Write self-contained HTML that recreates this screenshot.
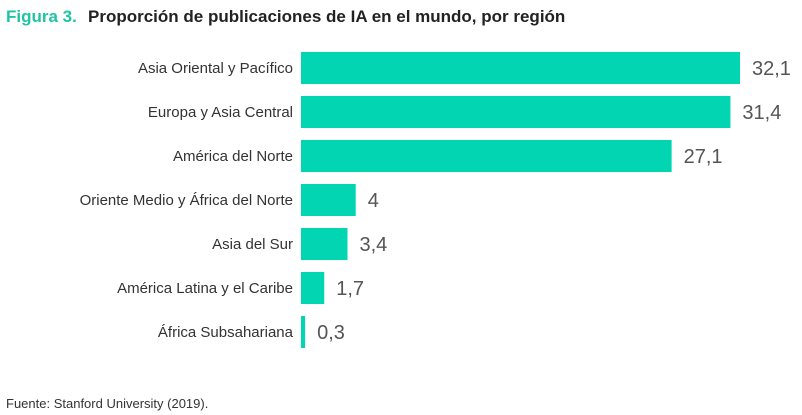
<!DOCTYPE html>
<html><head><meta charset="utf-8"><style>
body{margin:0;background:#fff;font-family:"Liberation Sans",sans-serif;}
#c{position:relative;width:802px;height:415px;overflow:hidden}
</style></head><body>
<div id="c">
<svg width="802" height="415">
<text x="6" y="22" font-size="17" font-weight="bold" fill="#1fc4a6">Figura 3.</text>
<text x="88" y="22" font-size="17" font-weight="bold" fill="#222">Proporción de publicaciones de IA en el mundo, por región</text>
<g id="bars"></g>
<text x="6" y="408" font-size="13" fill="#333">Fuente: Stanford University (2019).</text>
</svg>
</div>
<script>
const categories=["Asia Oriental y Pacífico","Europa y Asia Central","América del Norte","Oriente Medio y África del Norte","Asia del Sur","América Latina y el Caribe","África Subsahariana"];
const values=[32.1,31.4,27.1,4,3.4,1.7,0.3];
const valueLabels=["32,1","31,4","27,1","4","3,4","1,7","0,3"];
const x0=301,scale=439/32.1,top0=52,step=44,bh=32;
const xs=v=>v*scale;
const g=document.getElementById('bars');
const ns='http://www.w3.org/2000/svg';
categories.forEach((c,i)=>{
  const y=top0+i*step;
  const r=document.createElementNS(ns,'rect');
  r.setAttribute('x',x0);r.setAttribute('y',y);
  r.setAttribute('width',Math.max(xs(values[i]),2.5));r.setAttribute('height',bh);
  r.setAttribute('fill','#02d5b2');
  
  
  g.appendChild(r);
  const t=document.createElementNS(ns,'text');
  t.setAttribute('x',293);t.setAttribute('y',y+bh/2+5);
  t.setAttribute('text-anchor','end');t.setAttribute('font-size','15');t.setAttribute('fill','#333');
  t.textContent=c;
  
  
  g.appendChild(t);
  const v=document.createElementNS(ns,'text');
  v.setAttribute('x',x0+Math.max(xs(values[i]),2.5)+12);v.setAttribute('y',y+bh/2+7);
  v.setAttribute('font-size','20');v.setAttribute('fill','#555');
  v.textContent=valueLabels[i];
  
  
  g.appendChild(v);
});
</script>
</body></html>
